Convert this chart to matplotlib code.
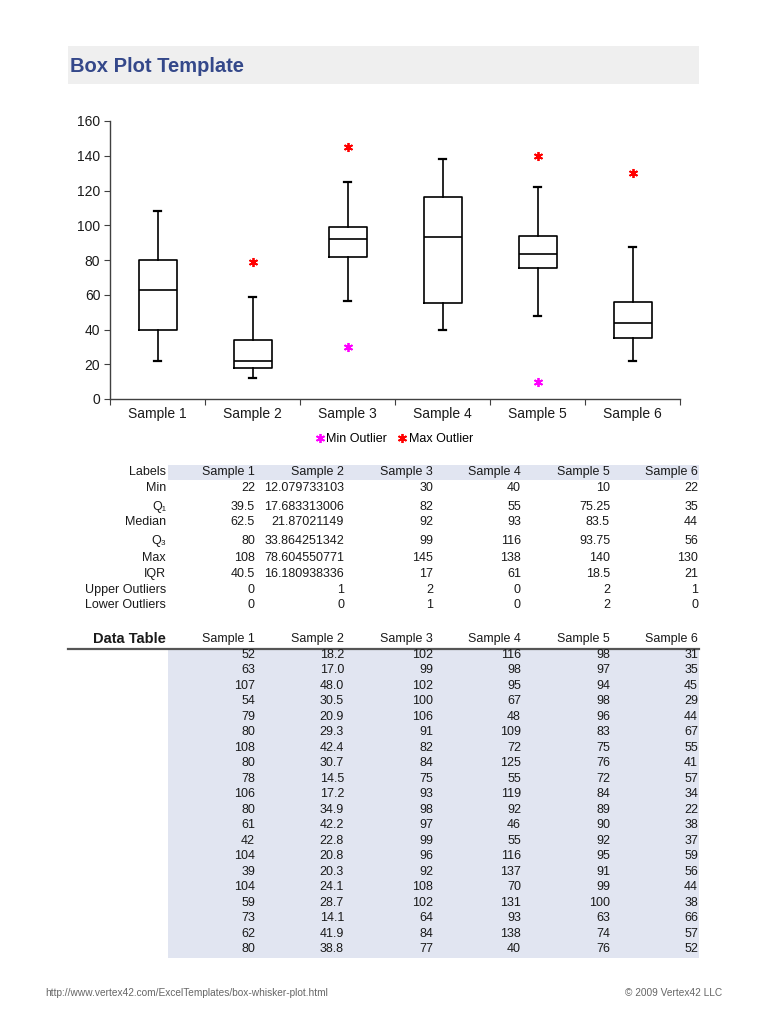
import numpy as np
import matplotlib.pyplot as plt
from matplotlib.patches import Rectangle

# --- data -------------------------------------------------------------
samples = ['Sample 1', 'Sample 2', 'Sample 3', 'Sample 4', 'Sample 5', 'Sample 6']

stat_min = [22, 12.079733103, 30, 40, 10, 22]
stat_q1 = [39.5, 17.683313006, 82, 55, 75.25, 35]
stat_med = [62.5, 21.87021149, 92, 93, 83.5, 44]
stat_q3 = [80, 33.864251342, 99, 116, 93.75, 56]
stat_max = [108, 78.604550771, 145, 138, 140, 130]
stat_iqr = [40.5, 16.180938336, 17, 61, 18.5, 21]
upper_out = [0, 1, 2, 0, 2, 1]
lower_out = [0, 0, 1, 0, 2, 0]

# whisker ends (largest / smallest value that is not an outlier)
whisk_lo = [22, 12.1, 56.5, 40, 47.5, 22]
whisk_hi = [108, 58.5, 125, 138, 122, 87.5]

# outlier markers shown on chart
max_outlier = [np.nan, 78.6, 145, np.nan, 140, 130]
min_outlier = [np.nan, np.nan, 30, np.nan, 10, np.nan]

s1 = [52, 63, 107, 54, 79, 80, 108, 80, 78, 106, 80, 61, 42, 104, 39, 104, 59, 73, 62, 80]
s2 = [18.2, 17.0, 48.0, 30.5, 20.9, 29.3, 42.4, 30.7, 14.5, 17.2, 34.9, 42.2, 22.8, 20.8,
      20.3, 24.1, 28.7, 14.1, 41.9, 38.8]
s3 = [102, 99, 102, 100, 106, 91, 82, 84, 75, 93, 98, 97, 99, 96, 92, 108, 102, 64, 84, 77]
s4 = [116, 98, 95, 67, 48, 109, 72, 125, 55, 119, 92, 46, 55, 116, 137, 70, 131, 93, 138, 40]
s5 = [98, 97, 94, 98, 96, 83, 75, 76, 72, 84, 89, 90, 92, 95, 91, 99, 100, 63, 74, 76]
s6 = [31, 35, 45, 29, 44, 67, 55, 41, 57, 34, 22, 38, 37, 59, 56, 44, 38, 66, 57, 52]

# --- figure -----------------------------------------------------------
W, H = 768, 1024
fig = plt.figure(figsize=(W / 100, H / 100), dpi=100)
fig.patch.set_facecolor('white')

# background "sheet" in pixel coordinates
bg = fig.add_axes([0, 0, 1, 1])
bg.set_xlim(0, W)
bg.set_ylim(H, 0)
bg.axis('off')

tf = 'Liberation Sans'   # table font
tsz = 9
txt = '#1a1a1a'

# title bar
bg.add_patch(Rectangle((68, 46), 631, 38, color='#efefef', lw=0))
bg.text(70, 66, 'Box Plot Template', fontsize=14.5, fontweight='bold',
        color='#34488a', family='Liberation Sans', va='center', ha='left')

# --- chart ------------------------------------------------------------
ax = fig.add_axes([110 / W, 1 - 399 / H, 570 / W, 278 / H])
pos = np.arange(len(samples)) + 0.5
stats = []
for i in range(len(samples)):
    stats.append(dict(med=stat_med[i], q1=stat_q1[i], q3=stat_q3[i],
                      whislo=whisk_lo[i], whishi=whisk_hi[i], fliers=[]))
lp = dict(color='black', lw=1.2)
ax.bxp(stats, positions=pos, widths=0.4, showfliers=False, capwidths=0.08,
       boxprops=lp, medianprops=lp, whiskerprops=lp, capprops=dict(color='black', lw=1.6))

ax.plot(pos, max_outlier, ls='none', marker=(6, 2, 0), ms=6.5, mew=1.3, color='#ff0000',
        label='Max Outlier')
ax.plot(pos, min_outlier, ls='none', marker=(6, 2, 0), ms=6.5, mew=1.3, color='#ff00ff',
        label='Min Outlier')

ax.set_xlim(0, 6)
ax.set_ylim(0, 160)
ax.set_yticks(np.arange(0, 161, 20))
ax.set_xticks(np.arange(0, 7))
ax.set_xticklabels([])
ax.set_xticks(pos, minor=True)
ax.set_xticklabels(samples, minor=True)
ax.tick_params(axis='x', which='minor', length=0, pad=6, labelsize=10, labelcolor=txt)
ax.tick_params(axis='x', which='major', length=4, direction='out', color='#404040')
ax.tick_params(axis='y', length=4, direction='out', color='#404040', labelsize=10,
               labelcolor=txt, pad=3)
for lab in ax.get_xticklabels(minor=True) + ax.get_yticklabels():
    lab.set_family('Liberation Sans')
for sp in ['top', 'right']:
    ax.spines[sp].set_visible(False)
for sp in ['left', 'bottom']:
    ax.spines[sp].set_color('#404040')
    ax.spines[sp].set_linewidth(1.0)
ax.set_facecolor('none')

h, l = ax.get_legend_handles_labels()
fig.legend(h[::-1], l[::-1], loc='center', bbox_to_anchor=(394 / W, 1 - 439 / H), ncol=2,
           frameon=False, handlelength=0.8, handletextpad=0.1, columnspacing=0.8,
           prop={'family': 'Liberation Sans', 'size': 9})

# --- summary table ----------------------------------------------------
def fmt(v):
    if float(v).is_integer():
        return str(int(v))
    return '{:.11g}'.format(v)

col_x = [255, 344, 433, 521, 610, 698]
lab_x = 166
bg.add_patch(Rectangle((168, 465), 531, 15, color='#e1e5f1', lw=0))

row_names = ['Labels', 'Min', 'Q\u2081', 'Median', 'Q\u2083', 'Max', 'IQR',
             'Upper Outliers', 'Lower Outliers']
row_y = [472, 488, 507, 522, 541, 558, 574, 590, 605]
row_vals = [samples, stat_min, stat_q1, stat_med, stat_q3, stat_max, stat_iqr,
            upper_out, lower_out]
for name, y, vals in zip(row_names, row_y, row_vals):
    bg.text(lab_x, y, name, ha='right', va='center', fontsize=tsz,
            family=[tf, 'DejaVu Sans'], color=txt)
    for x, v in zip(col_x, vals):
        s = v if isinstance(v, str) else fmt(v)
        bg.text(x, y, s, ha='right', va='center', fontsize=tsz, family=tf, color=txt)

# --- data table -------------------------------------------------------
bg.text(lab_x, 639, 'Data Table', ha='right', va='center', fontsize=10.5,
        fontweight='bold', family='Liberation Sans', color=txt)
for x, s in zip(col_x, samples):
    bg.text(x, 639, s, ha='right', va='center', fontsize=tsz, family=tf, color=txt)
bg.add_patch(Rectangle((168, 649), 531, 309, color='#e1e5f1', lw=0))
bg.plot([68, 699], [649, 649], color='#555555', lw=1.6)

cols = [s1, s2, s3, s4, s5, s6]
y0, dy = 655, (949 - 655) / 19
for j, col in enumerate(cols):
    for i, v in enumerate(col):
        s = '{:.1f}'.format(v) if j == 1 else fmt(v)
        bg.text(col_x[j], y0 + i * dy, s, ha='right', va='center', fontsize=tsz,
                family=tf, color=txt)

# footer
bg.text(45, 993, 'http://www.vertex42.com/ExcelTemplates/box-whisker-plot.html',
        ha='left', va='center', fontsize=7.3, family=tf, color='#666666')
bg.text(722, 993, '\u00a9 2009 Vertex42 LLC', ha='right', va='center', fontsize=7.3,
        family=tf, color='#666666')

fig.savefig('out.png', dpi=100)
